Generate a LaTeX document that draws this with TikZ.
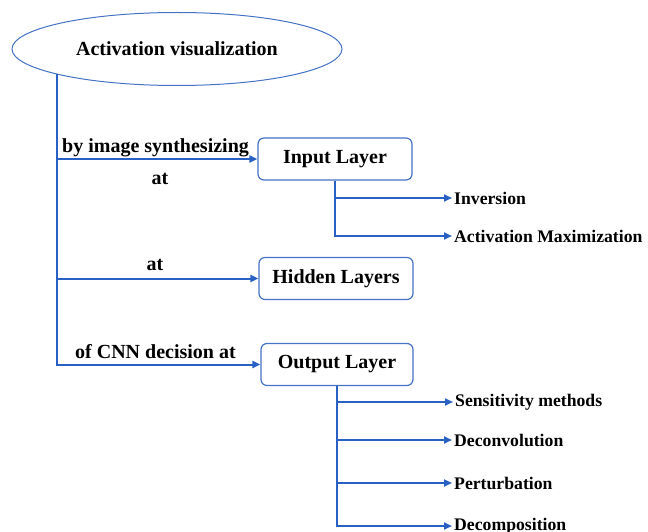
\documentclass[tikz,border=0pt]{standalone}
\usepackage{fontspec}
\setmainfont{Liberation Serif}
\usetikzlibrary{arrows.meta,shapes.geometric}
\definecolor{linkblue}{RGB}{40,96,196}
\definecolor{frameblue}{RGB}{68,114,196}
\begin{document}
\begin{tikzpicture}[x=1pt,y=-1pt,
  conn/.style={draw=linkblue,line width=2pt,-{Triangle[length=8pt,width=7pt]}},
  layerbox/.style={draw=frameblue,line width=1.2pt,rounded corners=6pt,
    minimum width=154pt,minimum height=42pt,inner sep=0pt,
    font=\fontsize{20}{24}\selectfont\bfseries},
  leaf/.style={anchor=west,inner sep=2pt,font=\fontsize{17.7}{20}\selectfont\bfseries},
  lbl/.style={inner sep=0pt,font=\fontsize{20}{24}\selectfont\bfseries}]
  \useasboundingbox (0,0) rectangle (648,532);
  \clip (0,0) rectangle (648,532);

  % root
  \node[ellipse,draw=frameblue,line width=1pt,minimum width=330pt,minimum height=73pt,
        inner sep=0pt,font=\fontsize{20}{24}\selectfont\bfseries] (act) at (177,49)
        {Activation visualization};

  % layer boxes
  \node[layerbox] (in) at (335,159) {Input Layer};
  \node[layerbox] (hid) at (336,278.5) {Hidden Layers};
  \node[layerbox,minimum width=152pt] (out) at (337,364.5) {Output Layer};

  % trunk and branches
  \draw[conn] (act.192.4) |- (out.west);
  \draw[conn] (act.192.4 |- in.west) -- (in.west);
  \draw[conn] (act.192.4 |- hid.west) -- (hid.west);

  % branch labels
  \node[lbl,anchor=base west] (l1) at (62,153) {by image synthesizing};
  \node[lbl,anchor=base] (l2) at (160,184) {at};
  \node[lbl,anchor=base] (l3) at (155,270) {at};
  \node[lbl,anchor=base west] (l4) at (75,358) {of CNN decision at};

  % input layer methods
  \node[leaf] (inv) at (452,198) {Inversion};
  \node[leaf] (am) at (452,236) {Activation Maximization};
  \draw[conn] (in.south) |- (inv.west);
  \draw[conn] (in.south) |- (am.west);

  % output layer methods
  \node[leaf] (sens) at (453,402) {Sensitivity methods};
  \node[leaf] (deconv) at (452,440) {Deconvolution};
  \node[leaf] (pert) at (452,483) {Perturbation};
  \node[leaf] (decomp) at (452,526) {Decomposition};
  \draw[conn] (out.south) |- (sens.west);
  \draw[conn] (out.south) |- (deconv.west);
  \draw[conn] (out.south) |- (pert.west);
  \draw[conn] (out.south) |- (decomp.west);
\end{tikzpicture}
\end{document}
